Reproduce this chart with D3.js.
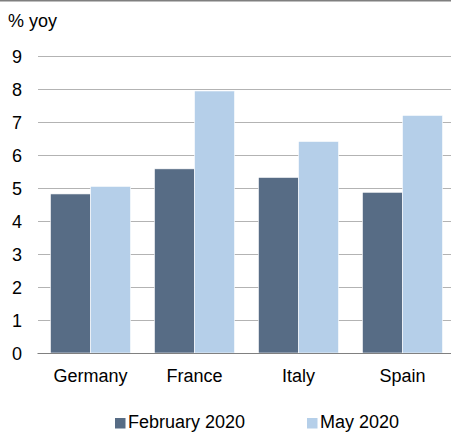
<!DOCTYPE html>
<html><head><meta charset="utf-8">
<script src="https://cdn.jsdelivr.net/npm/d3@7"></script>
<style>body{margin:0;background:#fff}svg{display:block;font-family:"Liberation Sans",Arial,sans-serif}</style>
</head><body>
<script>
const categories = ["Germany", "France", "Italy", "Spain"];
const seriesNames = ["February 2020", "May 2020"];
const feb2020 = [4.82, 5.58, 5.32, 4.87];
const may2020 = [5.05, 7.94, 6.41, 7.2];
const yTicks = [0, 1, 2, 3, 4, 5, 6, 7, 8, 9];
const colors = ["#576c85", "#b5cfe9"];

const W = 451, H = 432;
const svg = d3.select("body").append("svg").attr("width", W).attr("height", H);

svg.append("line").attr("x1", 0).attr("x2", W).attr("y1", 0.75).attr("y2", 0.75)
  .attr("stroke", "#7f7f7f").attr("stroke-width", 1.5);

svg.append("text").attr("x", 8).attr("y", 27).attr("font-size", 18).attr("fill", "#000").text("% yoy");

const y = d3.scaleLinear().domain([0, 9]).range([353, 56]);
const x = d3.scaleBand().domain(categories).range([38.5, 454.5]).paddingInner(0.23).paddingOuter(0.115);
const xs = d3.scaleBand().domain(seriesNames).range([0, x.bandwidth()]);

// gridlines
svg.append("g").selectAll("line").data(yTicks.filter(d => d > 0)).join("line")
  .attr("x1", 38).attr("x2", W).attr("y1", d => y(d) + 0.5).attr("y2", d => y(d) + 0.5)
  .attr("stroke", "#b3b3b3").attr("stroke-width", 1);

// y tick labels
svg.append("g").selectAll("text").data(yTicks).join("text")
  .attr("x", 22).attr("y", d => y(d) + 6.5).attr("text-anchor", "end")
  .attr("font-size", 18).attr("fill", "#000").text(d => d);

const data = categories.map((c, i) => ({c, vals: [feb2020[i], may2020[i]]}));
const g = svg.append("g").selectAll("g").data(data).join("g")
  .attr("transform", d => `translate(${x(d.c)},0)`);
g.selectAll("rect").data(d => d.vals.map((v, j) => ({v, s: seriesNames[j], j}))).join("rect")
  .attr("x", d => xs(d.s)).attr("width", xs.bandwidth())
  .attr("y", d => y(d.v)).attr("height", d => y(0) - y(d.v))
  .attr("fill", d => colors[d.j]).attr("stroke", "#fff").attr("stroke-width", 0.6);

// x axis line
svg.append("line").attr("x1", 37.5).attr("x2", W).attr("y1", y(0) + 0.5).attr("y2", y(0) + 0.5)
  .attr("stroke", "#808080").attr("stroke-width", 1);

// category labels
svg.append("g").selectAll("text").data(categories).join("text")
  .attr("x", d => x(d) + x.bandwidth() / 2).attr("y", 382).attr("text-anchor", "middle")
  .attr("font-size", 18).attr("fill", "#000").text(d => d);

// legend
const legX = [115, 307];
const leg = svg.append("g").selectAll("g").data(seriesNames).join("g")
  .attr("transform", (d, i) => `translate(${legX[i]},0)`);
leg.append("rect").attr("x", 0).attr("y", 418).attr("width", 10.5).attr("height", 10.5)
  .attr("fill", (d, i) => colors[i]);
leg.append("text").attr("x", 13).attr("y", 427.5).attr("font-size", 18).attr("fill", "#000").text(d => d);
</script>
</body></html>
